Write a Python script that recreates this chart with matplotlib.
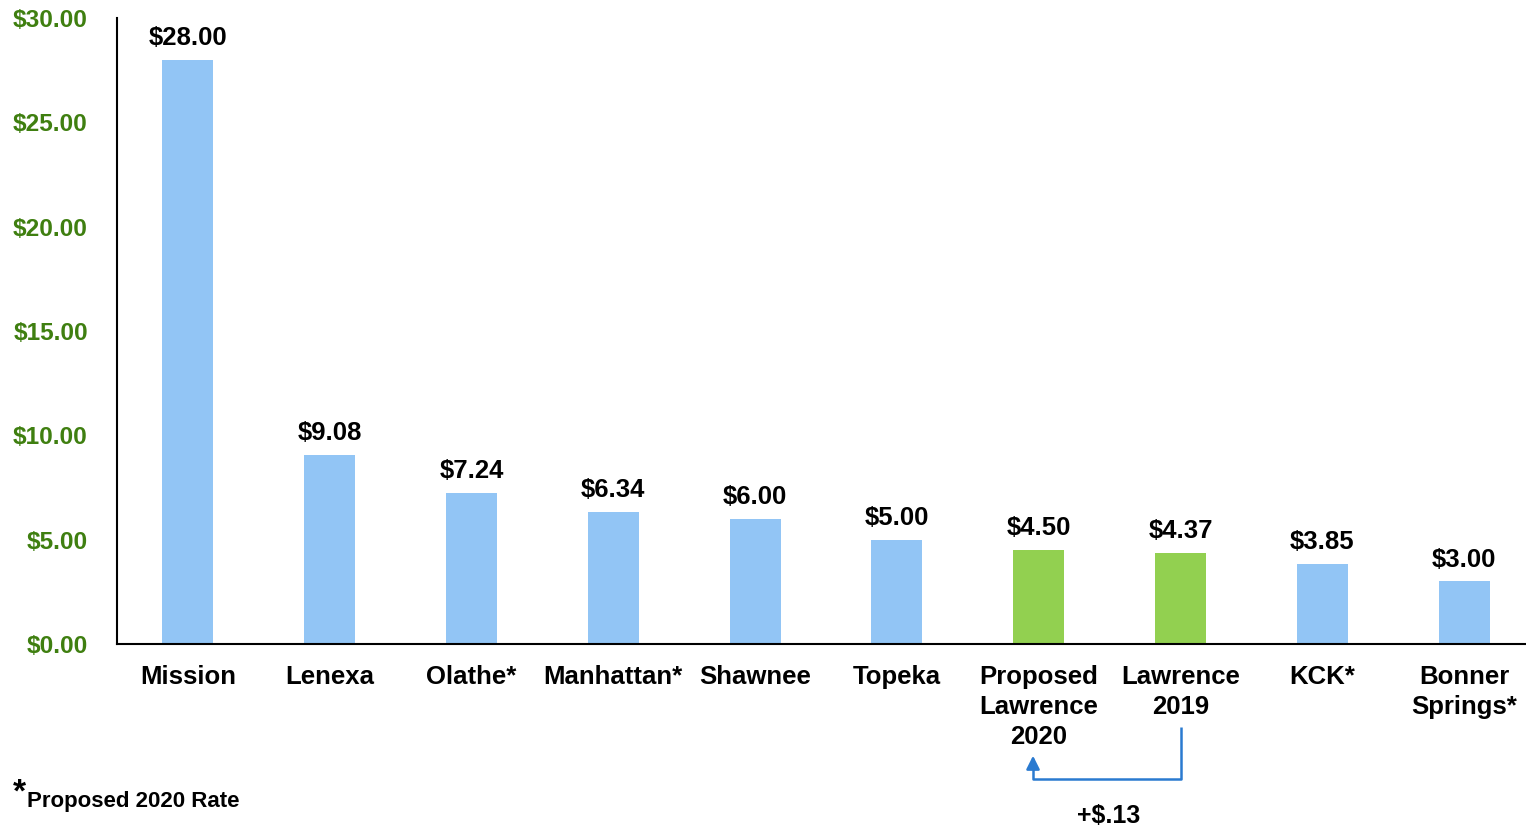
import matplotlib
matplotlib.use("Agg")
import matplotlib.pyplot as plt
import matplotlib.transforms as mtransforms

plt.rcParams['font.family'] = ['Liberation Sans', 'DejaVu Sans']

categories = ["Mission", "Lenexa", "Olathe*", "Manhattan*", "Shawnee", "Topeka",
              "Proposed\nLawrence\n2020", "Lawrence\n2019", "KCK*", "Bonner\nSprings*"]
values = [28.00, 9.08, 7.24, 6.34, 6.00, 5.00, 4.50, 4.37, 3.85, 3.00]
value_labels = ["$28.00", "$9.08", "$7.24", "$6.34", "$6.00", "$5.00", "$4.50", "$4.37", "$3.85", "$3.00"]
highlight = [False, False, False, False, False, False, True, True, False, False]
yticks = [0, 5, 10, 15, 20, 25, 30]
ytick_labels = ["$0.00", "$5.00", "$10.00", "$15.00", "$20.00", "$25.00", "$30.00"]
diff_label = "+$.13"
footnote = "Proposed 2020 Rate"

BLUE = "#92C5F5"
GREEN = "#92D050"
TICK_GREEN = "#3F7F10"
ARROW = "#2A7AD0"

fig = plt.figure(figsize=(15.26, 8.30), dpi=100)
ax = fig.add_axes([117/1526, 186/830, 1418/1526, 626/830])

x = list(range(len(categories)))
colors = [GREEN if h else BLUE for h in highlight]
ax.bar(x, values, width=0.36, color=colors, zorder=2)

for xi, v, lab in zip(x, values, value_labels):
    ax.annotate(lab, (xi, v), xytext=(0, 7), textcoords="offset points",
                ha="center", va="bottom", fontsize=18.5, fontweight="bold", color="black")

ax.set_xlim(-0.5, len(categories) - 0.5)
ax.set_ylim(0, 30)
ax.set_yticks(yticks)
ax.set_yticklabels(ytick_labels, fontsize=17.6, fontweight="bold", color=TICK_GREEN)
ax.tick_params(axis="y", length=0, pad=21)
ax.set_xticks(x)
ax.set_xticklabels(categories, fontsize=18.5, fontweight="bold", color="black", linespacing=1.32)
ax.tick_params(axis="x", length=0, pad=15)

for s in ["top", "right"]:
    ax.spines[s].set_visible(False)
for s in ["left", "bottom"]:
    ax.spines[s].set_linewidth(1.5)
    ax.spines[s].set_color("black")

# Connector arrow from Lawrence 2019 to Proposed Lawrence 2020
trans = mtransforms.blended_transform_factory(ax.transData, ax.transAxes)
x_from = 7.0
x_to = 6.0 - 0.04
y_top = -0.1326
y_bot = -0.2157
y_tip = -0.174
ax.plot([x_from, x_from, x_to, x_to], [y_top, y_bot, y_bot, y_tip - 0.01],
        transform=trans, color=ARROW, lw=1.8, clip_on=False, solid_capstyle="butt")
ax.annotate("", xy=(x_to, y_tip), xycoords=trans, xytext=(x_to, y_tip - 0.02), textcoords=trans,
            arrowprops=dict(arrowstyle="-|>", color=ARROW, lw=1.8, mutation_scale=20),
            annotation_clip=False)
ax.text(6.49, -0.275, diff_label, transform=trans, ha="center", va="center",
        fontsize=18, fontweight="bold", color="black")

fig.text(13/1526, 1 - 793/830, "*", fontsize=24, fontweight="bold", ha="left", va="center")
fig.text(27/1526, 1 - 801/830, footnote, fontsize=16, fontweight="bold", ha="left", va="center")

fig.savefig("out.png", dpi=100)
